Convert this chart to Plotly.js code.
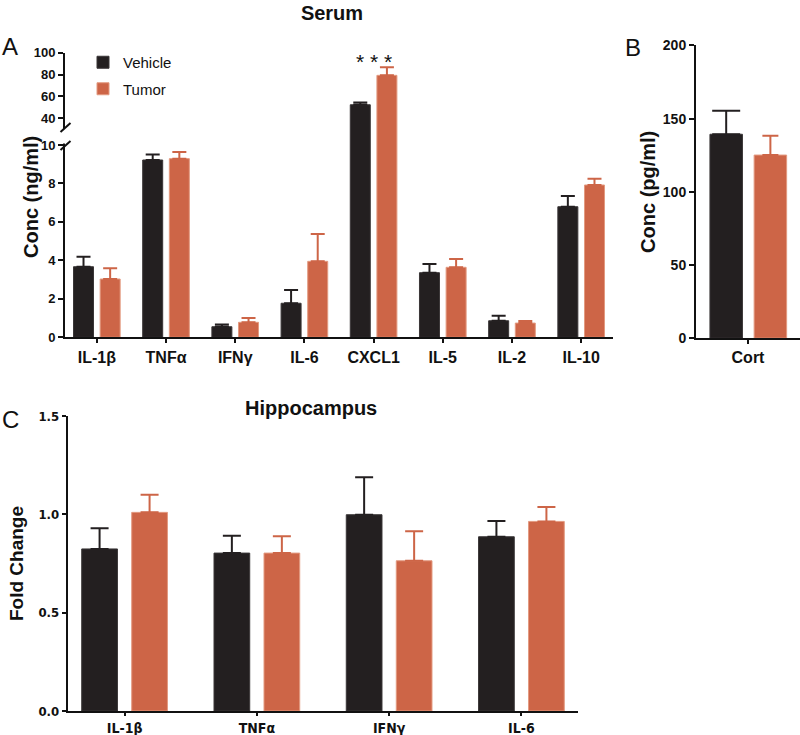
<!DOCTYPE html>
<html>
<head>
<meta charset="utf-8">
<script src="https://cdn.plot.ly/plotly-3.0.1.min.js"></script>
<style>html,body{margin:0;padding:0;background:#fff;}#chart{width:800px;height:735px;}</style>
</head>
<body>
<div id="chart"></div>
<script>
// ---- Panel A: Serum (ng/ml) ----
const catsA = ['IL-1β', 'TNFα', 'IFNγ', 'IL-6', 'CXCL1', 'IL-5', 'IL-2', 'IL-10'];
const vehicleA = [3.67, 9.22, 0.55, 1.77, 52.4, 3.36, 0.86, 6.79];
const vehicleErrA = [0.52, 0.28, 0.12, 0.69, 2.1, 0.45, 0.26, 0.56];
const tumorA = [3.03, 9.29, 0.78, 3.95, 79.3, 3.64, 0.74, 7.92];
const tumorErrA = [0.56, 0.35, 0.22, 1.42, 7.3, 0.43, 0.11, 0.33];

// ---- Panel B: Cort (pg/ml) ----
const catsB = ['Cort'];
const vehicleB = [139.3];
const vehicleErrB = [16.1];
const tumorB = [125.1];
const tumorErrB = [13.2];

// ---- Panel C: Hippocampus (fold change) ----
const catsC = ['IL-1β', 'TNFα', 'IFNγ', 'IL-6'];
const vehicleC = [0.824, 0.803, 0.998, 0.886];
const vehicleErrC = [0.105, 0.088, 0.19, 0.08];
const tumorC = [1.01, 0.803, 0.764, 0.964];
const tumorErrC = [0.09, 0.085, 0.15, 0.073];

const groupNames = ['Vehicle', 'Tumor'];
const axisTicksA = [0, 2, 4, 6, 8, 10];
const axisTicksAUpper = [40, 60, 80, 100];
const axisTicksB = [0, 50, 100, 150, 200];
const axisTicksC = [0, 0.5, 1.0, 1.5];

const BLACK = '#231f20';
const ORANGE = '#cd6547';
const FONT = 'Liberation Sans, Arial, Helvetica, sans-serif';
const NARROW = 'Liberation Sans Narrow, Arial Narrow, DejaVu Sans Condensed, sans-serif';

const W = 800, H = 735;
const px = v => v / W;
const py = v => 1 - v / H;

function zeros(n) { return new Array(n).fill(0); }

function barTrace(cats, vals, errs, opts) {
  return {
    type: 'bar',
    x: cats,
    y: vals,
    name: opts.name,
    xaxis: opts.xaxis,
    yaxis: opts.yaxis,
    width: opts.width,
    offset: opts.offset,
    showlegend: !!opts.legend,
    legendgroup: opts.name,
    marker: { color: opts.color, line: { color: opts.lineColor, width: 1 } },
    error_y: {
      type: 'data', symmetric: false, array: errs, arrayminus: zeros(errs.length),
      color: opts.color, thickness: 2, width: opts.cap
    },
    hoverinfo: 'x+y+name'
  };
}

const traces = [
  // Panel A lower
  barTrace(catsA, vehicleA, vehicleErrA, { name: groupNames[0], xaxis: 'x', yaxis: 'y', width: 0.289, offset: -0.337, color: BLACK, lineColor: '#3a3637', cap: 7, legend: true }),
  barTrace(catsA, tumorA, tumorErrA, { name: groupNames[1], xaxis: 'x', yaxis: 'y', width: 0.289, offset: 0.048, color: ORANGE, lineColor: '#e39a80', cap: 7, legend: true }),
  // Panel A upper (broken axis)
  barTrace(catsA, vehicleA, vehicleErrA, { name: groupNames[0], xaxis: 'x', yaxis: 'y2', width: 0.289, offset: -0.337, color: BLACK, lineColor: '#3a3637', cap: 7 }),
  barTrace(catsA, tumorA, tumorErrA, { name: groupNames[1], xaxis: 'x', yaxis: 'y2', width: 0.289, offset: 0.048, color: ORANGE, lineColor: '#e39a80', cap: 7 }),
  // Panel B
  barTrace(catsB, vehicleB, vehicleErrB, { name: groupNames[0], xaxis: 'x2', yaxis: 'y3', width: 0.3125, offset: -0.366, color: BLACK, lineColor: '#3a3637', cap: 14 }),
  barTrace(catsB, tumorB, tumorErrB, { name: groupNames[1], xaxis: 'x2', yaxis: 'y3', width: 0.3125, offset: 0.059, color: ORANGE, lineColor: '#e39a80', cap: 8 }),
  // Panel C
  barTrace(catsC, vehicleC, vehicleErrC, { name: groupNames[0], xaxis: 'x3', yaxis: 'y4', width: 0.27, offset: -0.324, color: BLACK, lineColor: '#3a3637', cap: 9 }),
  barTrace(catsC, tumorC, tumorErrC, { name: groupNames[1], xaxis: 'x3', yaxis: 'y4', width: 0.27, offset: 0.054, color: ORANGE, lineColor: '#e39a80', cap: 9 })
];

const axisBase = {
  showline: true, linecolor: '#111', linewidth: 2,
  ticks: 'outside', ticklen: 5, tickwidth: 2, tickcolor: '#111',
  showgrid: false, zeroline: false, fixedrange: true, automargin: false
};

const layout = {
  width: W, height: H,
  margin: { l: 0, r: 0, t: 0, b: 0 },
  paper_bgcolor: '#fff', plot_bgcolor: 'rgba(0,0,0,0)',
  barmode: 'overlay',
  font: { family: FONT, color: '#111' },
  title: {
    text: 'Serum', x: px(332), y: py(13), xanchor: 'center', yanchor: 'middle',
    xref: 'paper', yref: 'paper',
    font: { family: FONT, size: 20, weight: 'bold', color: '#111' }
  },
  showlegend: true,
  legend: {
    x: px(83), y: py(46), xanchor: 'left', yanchor: 'top',
    bgcolor: 'rgba(0,0,0,0)', borderwidth: 0,
    font: { family: FONT, size: 15, color: '#111' },
    traceorder: 'grouped', tracegroupgap: 4
  },
  xaxis: Object.assign({}, axisBase, {
    domain: [px(65), px(613)], anchor: 'y', type: 'category',
    categoryarray: catsA, categoryorder: 'array', range: [-0.46, 7.46],
    ticklen: 4,
    tickfont: { family: FONT, size: 16, weight: 'bold', color: '#111' }
  }),
  yaxis: Object.assign({}, axisBase, {
    domain: [py(337.3), py(145)], anchor: 'x', range: [0, 10],
    tickvals: axisTicksA,
    tickfont: { family: FONT, size: 13, weight: 'bold', color: '#111' }
  }),
  yaxis2: Object.assign({}, axisBase, {
    domain: [py(145), py(52.7)], anchor: 'x', range: [15.6, 100],
    tickvals: axisTicksAUpper,
    tickfont: { family: FONT, size: 13, weight: 'bold', color: '#111' }
  }),
  xaxis2: Object.assign({}, axisBase, {
    domain: [px(696), 1.0], anchor: 'y3', type: 'category', range: [-0.5, 0.5],
    ticklen: 4,
    tickfont: { family: FONT, size: 16, weight: 'bold', color: '#111' }
  }),
  yaxis3: Object.assign({}, axisBase, {
    domain: [py(338.2), py(45.4)], anchor: 'x2', range: [0, 200],
    tickvals: axisTicksB,
    tickfont: { family: FONT, size: 14, weight: 'bold', color: '#111' },
    title: { text: 'Conc (pg/ml)', standoff: 2, font: { family: FONT, size: 20, weight: 'bold', color: '#111' } }
  }),
  xaxis3: Object.assign({}, axisBase, {
    domain: [px(67.7), px(578.3)], anchor: 'y4', type: 'category',
    categoryarray: catsC, categoryorder: 'array', range: [-0.43, 3.43],
    ticklen: 3,
    tickfont: { family: NARROW, size: 14, weight: 'bold', color: '#111' }
  }),
  yaxis4: Object.assign({}, axisBase, {
    domain: [py(711), py(416)], anchor: 'x3', range: [0, 1.5],
    tickvals: axisTicksC, tickformat: '.1f', ticklen: 4,
    tickfont: { family: NARROW, size: 13, weight: 'bold', color: '#111' },
    title: { text: 'Fold Change', standoff: 10, font: { family: FONT, size: 19, weight: 'bold', color: '#111' } }
  }),
  shapes: [
    // gap in broken axis
    { type: 'rect', xref: 'paper', yref: 'paper', x0: px(62), x1: px(69), y0: py(143.5), y1: py(129), fillcolor: '#fff', line: { width: 0 }, layer: 'above' },
    // break marks
    { type: 'line', xref: 'paper', yref: 'paper', x0: px(60.5), y0: py(132), x1: px(70.5), y1: py(123), line: { color: '#111', width: 2 }, layer: 'above' },
    { type: 'line', xref: 'paper', yref: 'paper', x0: px(60.5), y0: py(150), x1: px(70.5), y1: py(141), line: { color: '#111', width: 2 }, layer: 'above' }
  ],
  annotations: [
    { text: 'A', xref: 'paper', yref: 'paper', x: px(10), y: py(46), xanchor: 'center', yanchor: 'middle', showarrow: false, font: { family: FONT, size: 24, color: '#111' } },
    { text: 'B', xref: 'paper', yref: 'paper', x: px(633), y: py(47), xanchor: 'center', yanchor: 'middle', showarrow: false, font: { family: FONT, size: 24, color: '#111' } },
    { text: 'C', xref: 'paper', yref: 'paper', x: px(10), y: py(419), xanchor: 'center', yanchor: 'middle', showarrow: false, font: { family: FONT, size: 24, color: '#111' } },
    { text: 'Conc (ng/ml)', xref: 'paper', yref: 'paper', x: px(31), y: py(197), textangle: -90, xanchor: 'center', yanchor: 'middle', showarrow: false, font: { family: FONT, size: 20, weight: 'bold', color: '#111' } },
    { text: 'Hippocampus', xref: 'paper', yref: 'paper', x: px(311), y: py(408), xanchor: 'center', yanchor: 'middle', showarrow: false, font: { family: FONT, size: 20, weight: 'bold', color: '#111' } },
    { text: '* * *', xref: 'x', yref: 'y2', x: catsA[4], y: 92, xanchor: 'center', yanchor: 'middle', showarrow: false, font: { family: FONT, size: 21, color: '#111' } }
  ]
};

Plotly.newPlot('chart', traces, layout, { displayModeBar: false, staticPlot: true });
</script>
</body>
</html>
